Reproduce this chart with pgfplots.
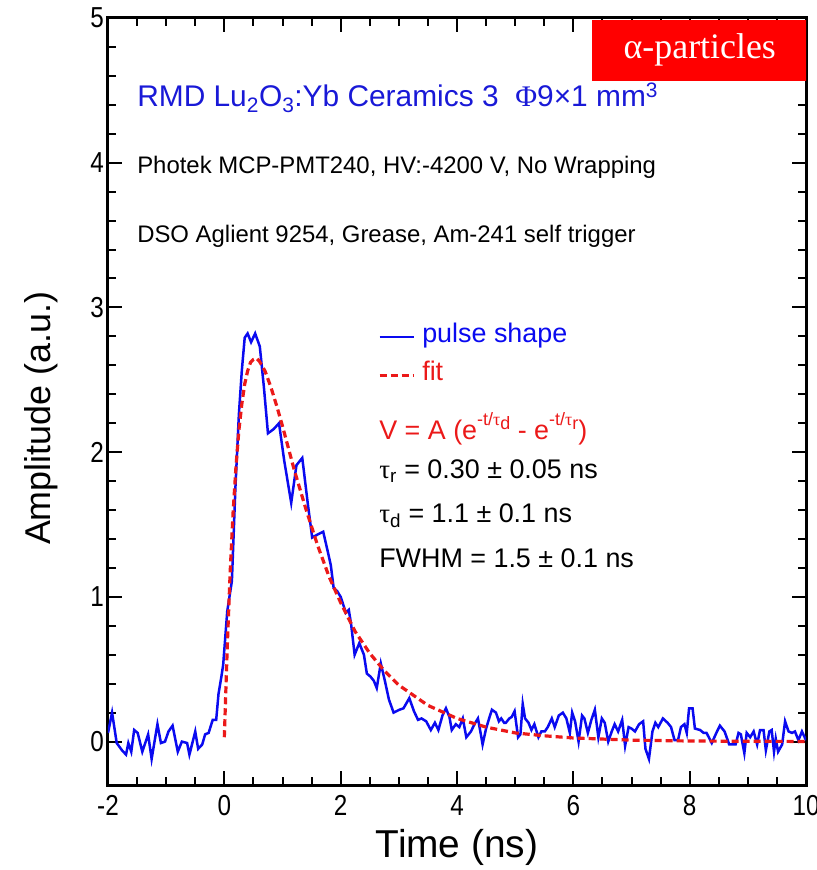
\documentclass[border=0pt]{standalone}
\usepackage{fontspec}
\setmainfont{Liberation Sans}
\newfontfamily\seriff{Liberation Serif}
\usepackage{graphicx}
\usepackage{pgfplots}
\pgfplotsset{compat=1.18}
\definecolor{pblue}{RGB}{10,10,240}
\definecolor{tblue}{RGB}{25,25,215}
\definecolor{pred}{RGB}{235,25,25}
\newcommand{\tickfont}{\fontsize{29}{33}\selectfont}

\pgfplotstableread{
t v
-2.00 0.06
-1.93 0.20
-1.85 -0.01
-1.76 -0.06
-1.69 -0.09
-1.65 -0.01
-1.60 -0.07
-1.55 0.08
-1.49 0.06
-1.41 -0.07
-1.31 0.05
-1.25 -0.12
-1.15 0.12
-1.09 -0.01
-1.02 0.00
-0.96 0.07
-0.89 0.11
-0.80 -0.07
-0.73 0.00
-0.64 -0.01
-0.60 -0.09
-0.50 0.07
-0.45 -0.05
-0.38 -0.02
-0.33 0.05
-0.27 0.06
-0.20 0.15
-0.14 0.15
-0.10 0.33
-0.05 0.45
-0.02 0.53
0.05 0.90
0.13 1.11
0.19 1.75
0.25 2.26
0.30 2.56
0.35 2.79
0.40 2.82
0.46 2.76
0.53 2.82
0.61 2.73
0.68 2.45
0.75 2.13
0.85 2.16
0.94 2.20
1.03 1.94
1.15 1.65
1.24 1.91
1.34 1.96
1.43 1.66
1.51 1.41
1.60 1.43
1.70 1.45
1.78 1.31
1.83 1.22
1.88 1.06
1.94 1.04
2.00 1.00
2.09 0.89
2.14 0.91
2.18 0.81
2.24 0.60
2.32 0.68
2.40 0.60
2.45 0.47
2.51 0.45
2.57 0.42
2.62 0.37
2.69 0.54
2.76 0.42
2.83 0.29
2.91 0.20
3.01 0.22
3.08 0.23
3.18 0.30
3.26 0.21
3.33 0.15
3.39 0.16
3.47 0.14
3.55 0.08
3.62 0.13
3.68 0.08
3.75 0.18
3.81 0.23
3.87 0.17
3.91 0.08
3.98 0.12
4.04 0.10
4.10 0.16
4.16 0.03
4.24 0.07
4.30 0.12
4.36 0.16
4.41 0.05
4.44 -0.02
4.50 0.09
4.56 0.17
4.60 0.22
4.67 0.20
4.72 0.14
4.76 0.16
4.81 0.13
4.84 0.13
4.90 0.16
4.94 0.17
4.99 0.21
5.05 0.03
5.09 0.05
5.13 0.26
5.17 0.16
5.23 0.13
5.28 0.08
5.33 0.12
5.40 0.03
5.45 0.07
5.51 0.07
5.56 0.10
5.63 0.16
5.68 0.10
5.75 0.18
5.82 0.20
5.88 0.16
5.94 0.06
5.98 0.20
6.03 0.14
6.09 0.00
6.15 0.18
6.19 0.16
6.25 0.06
6.31 0.15
6.37 0.22
6.43 0.03
6.49 0.16
6.54 0.13
6.60 0.00
6.66 0.07
6.71 0.12
6.77 0.07
6.84 0.15
6.89 -0.03
6.95 0.10
7.00 0.09
7.06 0.07
7.13 0.12
7.20 0.14
7.24 -0.05
7.30 -0.12
7.36 0.07
7.41 0.13
7.46 0.10
7.54 0.16
7.62 0.13
7.68 0.10
7.74 0.01
7.80 0.01
7.85 0.10
7.91 0.12
7.95 0.06
7.99 0.23
8.05 0.23
8.09 0.09
8.18 0.08
8.24 0.06
8.29 0.06
8.38 -0.01
8.47 0.07
8.52 0.11
8.60 0.07
8.68 -0.02
8.75 -0.02
8.79 -0.02
8.84 0.06
8.88 0.05
8.94 -0.08
8.98 0.06
9.04 0.03
9.10 0.07
9.16 -0.02
9.21 0.08
9.27 0.08
9.31 -0.06
9.37 0.07
9.41 0.08
9.45 -0.07
9.48 0.02
9.52 -0.07
9.59 -0.02
9.64 0.14
9.70 0.07
9.76 0.06
9.81 0.07
9.87 0.01
9.93 0.07
10.00 0.01
}\pulse

\pgfplotstableread{
t v
0.00 0.03
0.05 0.65
0.10 1.17
0.15 1.58
0.20 1.90
0.25 2.15
0.30 2.33
0.35 2.47
0.40 2.56
0.45 2.62
0.50 2.64
0.55 2.65
0.60 2.63
0.70 2.56
0.80 2.45
0.90 2.32
1.00 2.18
1.20 1.88
1.40 1.61
1.60 1.36
1.80 1.14
2.00 0.96
2.25 0.76
2.50 0.61
2.75 0.49
3.00 0.39
3.50 0.25
4.00 0.16
4.50 0.10
5.00 0.06
5.50 0.04
6.00 0.025
7.00 0.010
8.00 0.004
9.00 0.002
10.00 0.001
}\fit

\begin{document}
\begin{tikzpicture}
\begin{axis}[
  name=ax,
  width=698bp, height=767bp, scale only axis,
  xmin=-2, xmax=10, ymin=-0.3, ymax=5,
  xtick={-2,0,...,10}, ytick={0,1,...,5},
  minor x tick num=3, minor y tick num=4,
  tick align=inside,
  major tick length=14bp, minor tick length=8bp,
  every tick/.style={black, line width=2bp},
  axis line style={line width=3bp},
  /pgf/number format/assume math mode=true,
  xticklabel={\tickfont\scalebox{0.84}[1]{\pgfmathprintnumber{\tick}}},
  yticklabel={\tickfont\scalebox{0.84}[1]{\pgfmathprintnumber{\tick}}},
  xticklabel style={inner sep=2bp, yshift=-8bp},
  yticklabel style={inner sep=2bp, xshift=-2bp},
  xlabel={Time (ns)}, ylabel={Amplitude (a.u.)},
  xlabel style={font=\fontsize{39}{44}\selectfont, at={(axis description cs:0.5,-0.081)}, anchor=center},
  ylabel style={font=\fontsize{36}{42}\selectfont, at={(axis description cs:-0.095,0.478)}, anchor=center},
  legend style={at={(axis cs:2.64,2.91)}, anchor=north west, draw=none, fill=none,
    font=\fontsize{27}{32}\selectfont, inner sep=0pt, row sep=13bp},
  legend cell align=left,
  legend image code/.code={\draw[#1] (0bp,-4bp) -- (34bp,-4bp);},
]
\addplot[pblue, line width=2.5bp] table[x=t, y=v] {\pulse};
\addlegendentry{\hspace{5bp}\textcolor{pblue}{pulse shape}}
\addplot[pred, line width=3.2bp, dash pattern=on 7bp off 4bp] table[x=t, y=v] {\fit};
\addlegendentry{\hspace{5bp}\textcolor{pred}{fit}}

\node[anchor=west, inner sep=0pt, text=tblue, font=\fontsize{30}{35}\selectfont]
  at (axis cs:-1.5,4.45) {RMD Lu\textsubscript{2}O\textsubscript{3}:Yb Ceramics 3\ \ {\seriff Φ}9×1 mm\textsuperscript{3}};
\node[anchor=west, inner sep=0pt, font=\fontsize{24}{28}\selectfont]
  at (axis cs:-1.5,3.97) {Photek MCP-PMT240, HV:-4200 V, No Wrapping};
\node[anchor=west, inner sep=0pt, font=\fontsize{24}{28}\selectfont]
  at (axis cs:-1.5,3.49) {DSO Aglient 9254, Grease, Am-241 self trigger};

\node[anchor=west, inner sep=0pt, text=pred, font=\fontsize{27}{32}\selectfont]
  at (axis cs:2.66,2.16) {V = A (e\raisebox{1.0ex}{\fontsize{18}{20}\selectfont -t/{\seriff τ}\raisebox{-0.4ex}{d}} - e\raisebox{1.0ex}{\fontsize{18}{20}\selectfont -t/{\seriff τ}\raisebox{-0.4ex}{r}})};
\node[anchor=west, inner sep=0pt, font=\fontsize{27}{32}\selectfont]
  at (axis cs:2.66,1.87) {{\seriff τ}\textsubscript{r} = 0.30 ± 0.05 ns};
\node[anchor=west, inner sep=0pt, font=\fontsize{27}{32}\selectfont]
  at (axis cs:2.66,1.56) {{\seriff τ}\textsubscript{d} = 1.1 ± 0.1 ns};
\node[anchor=west, inner sep=0pt, font=\fontsize{27}{32}\selectfont]
  at (axis cs:2.66,1.27) {FWHM = 1.5 ± 0.1 ns};

\node[anchor=north east, fill=red, text=white, inner sep=0pt,
  minimum width=215bp, minimum height=61bp, xshift=1.5bp, yshift=-1.5bp,
  font=\seriff\fontsize{36}{40}\selectfont] at (rel axis cs:1,1) {α-particles};
\end{axis}
\pgfresetboundingbox
\path[use as bounding box] ([shift={(-108bp,-85bp)}]ax.south west) rectangle ([shift={(11bp,18bp)}]ax.north east);
\end{tikzpicture}
\end{document}
